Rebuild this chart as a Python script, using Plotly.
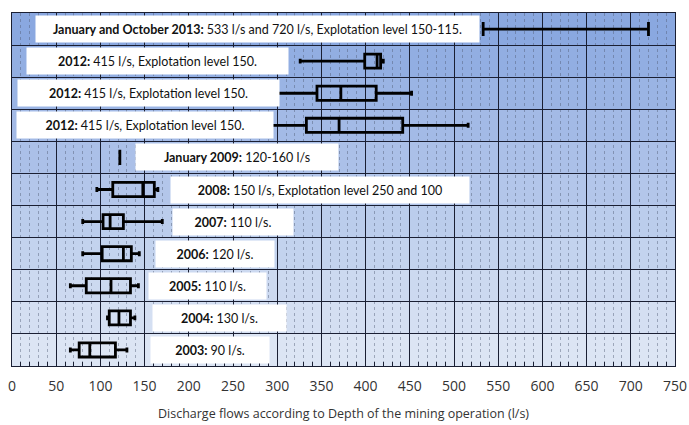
import plotly.graph_objects as go

# ---- data (top row first) ----
label_bold = ["January and October 2013:", "2012:", "2012:", "2012:", "January 2009:",
              "2008:", "2007:", "2006:", "2005:", "2004:", "2003:"]
label_rest = [" 533 l/s and 720 l/s, Explotation level 150-115.",
              " 415 l/s, Explotation level 150.",
              " 415 l/s, Explotation level 150.",
              " 415 l/s, Explotation level 150.",
              " 120-160 l/s",
              " 150 l/s, Explotation level 250 and 100",
              " 110 l/s.", " 120 l/s.", " 110 l/s.", " 130 l/s.", " 90 l/s."]
mins    = [533, 326, 295, 293, 122,  96,  80,  80,  66, 108,  66]
q1s     = [533, 399, 345, 333, 122, 114, 103, 102,  84, 110,  76]
medians = [533, 413, 372, 370, 122, 148, 111, 126, 112, 121,  88]
q3s     = [533, 417, 412, 442, 122, 161, 126, 135, 134, 134, 117]
maxs    = [720, 420, 452, 516, 122, 165, 170, 144, 143, 139, 130]
x_ticks = list(range(0, 751, 50))

# label box geometry (pixel-estimated in page coords, styling only)
lab_left_px  = [35, 26, 17, 16, 135, 170, 172, 155, 148, 152, 150]
lab_right_px = [478, 287, 278, 272, 337, 468, 292, 273, 265, 285, 268]

n = len(label_bold)
W, H = 689, 425
ml, mr, mt, mb = 12, 14, 13, 59
pw = W - ml - mr
xmax = 750.0

def px2val(px):
    return (px - ml) / pw * xmax

fig = go.Figure()

# background bands (gradient, darker at top)
top_c = (138, 168, 224)
bot_c = (220, 229, 244)
shapes = []
for i in range(n):
    t = i / (n - 1)
    c = tuple(round(top_c[k] + (bot_c[k] - top_c[k]) * t) for k in range(3))
    shapes.append(dict(type="rect", xref="paper", yref="y", x0=0, x1=1,
                       y0=n - 1 - i, y1=n - i, layer="below", line_width=0,
                       fillcolor="rgb(%d,%d,%d)" % c))

for i in range(n):
    pos = n - 0.5 - i
    fig.add_trace(go.Box(
        orientation="h", y=[pos],
        q1=[q1s[i]], median=[medians[i]], q3=[q3s[i]],
        lowerfence=[mins[i]], upperfence=[maxs[i]],
        width=0.44 if i != 4 else 0.48,
        whiskerwidth=1.0 if i == 0 else 0.35,
        line=dict(color="black", width=2.8),
        fillcolor="rgba(0,0,0,0)", showlegend=False, hoverinfo="skip"))

annotations = []
for i in range(n):
    pos = n - 0.5 - i
    annotations.append(dict(
        x=px2val(lab_left_px[i]), y=pos, xref="x", yref="y",
        xanchor="left", yanchor="middle",
        text="<b>" + label_bold[i] + "</b>" + label_rest[i],
        showarrow=False, align="center",
        width=lab_right_px[i] - lab_left_px[i] - 4, height=22,
        bgcolor="white", borderpad=2,
        font=dict(family="Lato, Open Sans, sans-serif", size=12.5, color="#111")))

fig.update_layout(
    width=W, height=H,
    margin=dict(l=ml, r=mr, t=mt, b=mb, autoexpand=False),
    paper_bgcolor="white", plot_bgcolor="rgb(190,208,236)",
    shapes=shapes, annotations=annotations,
    xaxis=dict(range=[0, xmax], tickvals=x_ticks, ticks="inside", ticklen=5,
               tickcolor="#1a1f33", automargin=False, ticklabelstandoff=7,
               ticklabeloverflow="allow",
               showgrid=True, gridcolor="#1a1f33", gridwidth=1.4,
               showline=True, linecolor="#1a1f33", linewidth=1.4, mirror=True,
               zeroline=False,
               tickfont=dict(family="Open Sans, sans-serif", size=14, color="#333"),
               minor=dict(dtick=10, tick0=0, ticks="inside", ticklen=4,
                          tickcolor="#1a1f33", showgrid=True,
                          gridcolor="rgba(80,90,115,0.45)", gridwidth=1,
                          griddash="3px,3px"),
               title=dict(text="Discharge flows according to Depth of the mining operation (l/s)",
                          font=dict(family="Open Sans, sans-serif", size=12.5, color="#333"),
                          standoff=15)),
    yaxis=dict(range=[0, n], dtick=1, tick0=0, showticklabels=False, ticks="",
               automargin=False,
               showgrid=True, gridcolor="#1a1f33", gridwidth=1.4,
               showline=True, linecolor="#1a1f33", linewidth=1.4, mirror=True,
               zeroline=False, fixedrange=True),
)

fig.write_html("out.html", config={"displayModeBar": False},
               post_script="document.body.style.margin='0';")
